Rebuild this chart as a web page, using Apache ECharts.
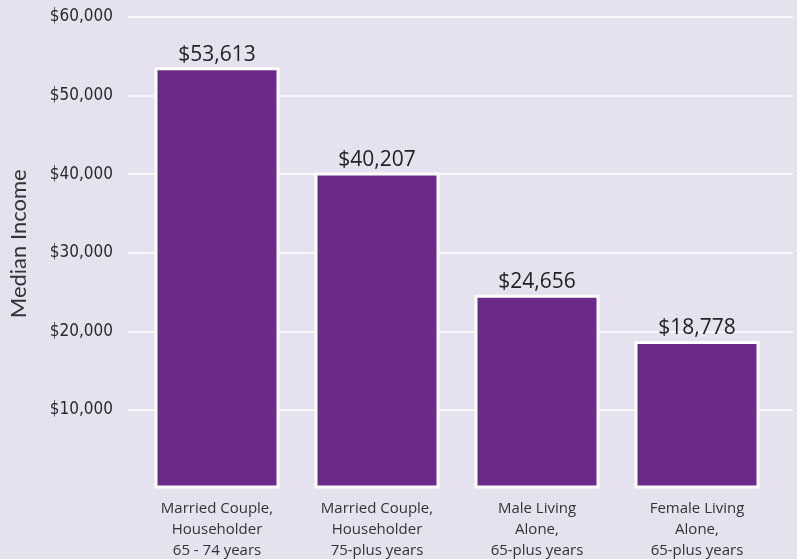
<!DOCTYPE html>
<html>
<head>
<meta charset="utf-8">
<style>
  html, body { margin: 0; padding: 0; background: #e6e1ef; }
  #main { width: 797px; height: 559px; }
</style>
<script src="https://cdn.jsdelivr.net/npm/echarts@6/dist/echarts.min.js"></script>
</head>
<body>
<div id="main"></div>
<script>
// categories and values
var categories = [
  'Married Couple,\nHouseholder\n65 - 74 years',
  'Married Couple,\nHouseholder\n75-plus years',
  'Male Living\nAlone,\n65-plus years',
  'Female Living\nAlone,\n65-plus years'
];
var medianIncome = [53613, 40207, 24656, 18778];

function money(v) {
  return '$' + Number(v).toLocaleString('en-US');
}

var chart = echarts.init(document.getElementById('main'));
chart.setOption({
  backgroundColor: '#e6e1ef',
  animation: false,
  grid: [
    // wide grid only for the white gridlines and y labels
    { left: 128, right: 4, top: 17, bottom: 149, outerBoundsMode: 'none' },
    // bars
    { left: 137, right: 20, top: 17, bottom: 70.5, outerBoundsMode: 'none' }
  ],
  xAxis: [
    { gridIndex: 0, type: 'value', show: false },
    {
      gridIndex: 1,
      type: 'category',
      data: categories,
      axisLine: { show: false },
      axisTick: { show: false },
      axisLabel: {
        margin: 10,
        color: '#333',
        fontFamily: 'Open Sans',
        fontSize: 15,
        lineHeight: 21
      }
    }
  ],
  yAxis: [
    {
      gridIndex: 0,
      type: 'value',
      min: 10000,
      max: 60000,
      interval: 10000,
      axisLine: { show: false },
      axisTick: { show: false },
      axisLabel: {
        margin: 15,
        color: '#2a2a2a',
        fontFamily: 'Liberation Sans Narrow, DejaVu Sans Condensed, sans-serif',
        fontSize: 17,
        formatter: function (v) { return money(v); }
      },
      splitLine: { lineStyle: { color: '#ffffff', width: 1.5 } }
    },
    {
      gridIndex: 1,
      type: 'value',
      min: 0,
      max: 60000,
      name: 'Median Income',
      nameLocation: 'middle',
      nameGap: 107,
      nameTextStyle: {
        color: '#333',
        fontFamily: 'Lato, Open Sans',
        fontSize: 22,
        padding: [0, 0, 0, 18]
      },
      axisLine: { show: false },
      axisTick: { show: false },
      axisLabel: { show: false },
      splitLine: { show: false }
    }
  ],
  series: [{
    type: 'bar',
    xAxisIndex: 1,
    yAxisIndex: 1,
    data: medianIncome,
    barWidth: 125,
    itemStyle: {
      color: '#6b2a89',
      borderColor: '#ffffff',
      borderWidth: 3
    },
    label: {
      show: true,
      position: 'top',
      distance: 2,
      color: '#222',
      fontFamily: 'Open Sans',
      fontSize: 21,
      formatter: function (p) { return money(p.value); }
    }
  }]
});
</script>
</body>
</html>
